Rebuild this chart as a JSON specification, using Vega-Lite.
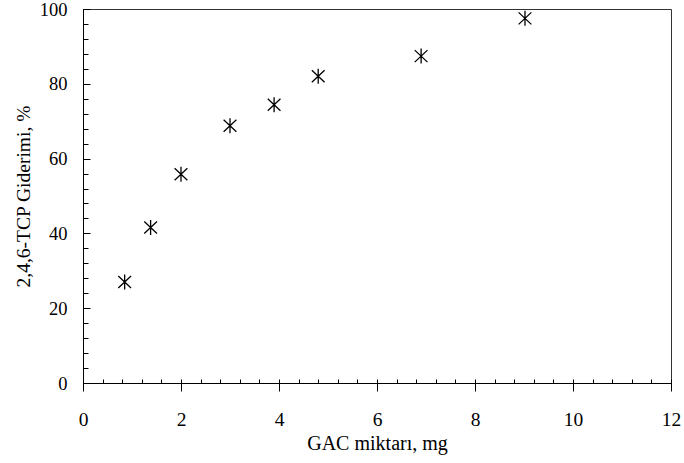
{
  "$schema": "https://vega.github.io/schema/vega-lite/v6.json",
  "width": 588,
  "height": 374,
  "autosize": {"type": "none"},
  "padding": {"left": 83, "top": 9, "right": 13, "bottom": 80},
  "background": "white",
  "config": {
    "view": {"stroke": "#333", "strokeWidth": 1},
    "font": "Liberation Serif",
    "axis": {"grid": false, "domainColor": "black", "tickColor": "black", "labelColor": "black", "titleColor": "black", "labelFont": "Liberation Serif", "titleFont": "Liberation Serif", "titleFontWeight": "normal"}
  },
  "data": {"values": [
    {"gac": 0.85, "removal": 27.0},
    {"gac": 1.38, "removal": 41.6},
    {"gac": 2.0, "removal": 55.8},
    {"gac": 3.0, "removal": 68.8},
    {"gac": 3.9, "removal": 74.4},
    {"gac": 4.8, "removal": 82.0},
    {"gac": 6.9, "removal": 87.4},
    {"gac": 9.02, "removal": 97.5}
  ]},
  "resolve": {"axis": {"x": "independent", "y": "independent"}},
  "layer": [
    {
      "mark": {"type": "point", "opacity": 0},
      "encoding": {
        "x": {"field": "gac", "type": "quantitative", "scale": {"domain": [0, 12], "nice": false},
          "axis": {"orient": "bottom", "values": [0,0.4,0.8,1.2,1.6,2,2.4,2.8,3.2,3.6,4,4.4,4.8,5.2,5.6,6,6.4,6.8,7.2,7.6,8,8.4,8.8,9.2,9.6,10,10.4,10.8,11.2,11.6,12], "tickSize": -4, "labels": false, "domain": false, "title": null}},
        "y": {"field": "removal", "type": "quantitative", "scale": {"domain": [0, 100], "nice": false},
          "axis": {"orient": "left", "values": [0,4,8,12,16,20,24,28,32,36,40,44,48,52,56,60,64,68,72,76,80,84,88,92,96,100], "tickSize": -5, "labels": false, "domain": false, "title": null}}
      }
    },
    {
      "mark": {"type": "point", "opacity": 0},
      "encoding": {
        "x": {"field": "gac", "type": "quantitative", "scale": {"domain": [0, 12], "nice": false},
          "axis": {"orient": "bottom", "values": [0,2,4,6,8,10,12], "ticks": false, "labels": false, "domain": false, "title": null}},
        "y": {"field": "removal", "type": "quantitative", "scale": {"domain": [0, 100], "nice": false},
          "axis": {"orient": "left", "values": [0,20,40,60,80,100], "tickSize": -7, "labels": false, "domain": false, "title": null}}
      }
    },
    {
      "mark": {"type": "point", "shape": "M0,-1L0,1M-0.85,-0.8L0.85,0.8M-0.85,0.8L0.85,-0.8", "filled": false, "stroke": "black", "strokeWidth": 1.3, "size": 225, "opacity": 1},
      "encoding": {
        "x": {"field": "gac", "type": "quantitative", "scale": {"domain": [0, 12], "nice": false},
          "axis": {"orient": "bottom", "values": [0,2,4,6,8,10,12], "tickSize": 8, "labelFont": "Liberation Serif", "labelFontSize": 19.5, "labelPadding": 19, "labelFlush": false, "title": "GAC miktarı, mg", "titleFont": "Liberation Serif", "titleFontSize": 20, "titlePadding": 5}},
        "y": {"field": "removal", "type": "quantitative", "scale": {"domain": [0, 100], "nice": false},
          "axis": {"orient": "left", "values": [0,20,40,60,80,100], "ticks": false, "labelFont": "Liberation Serif", "labelFontSize": 18.5, "labelPadding": 16, "labelFlush": false, "title": "2,4,6-TCP Giderimi, %", "titleFont": "Liberation Serif", "titleFontSize": 19.5, "titlePadding": 6}}
      }
    }
  ]
}
